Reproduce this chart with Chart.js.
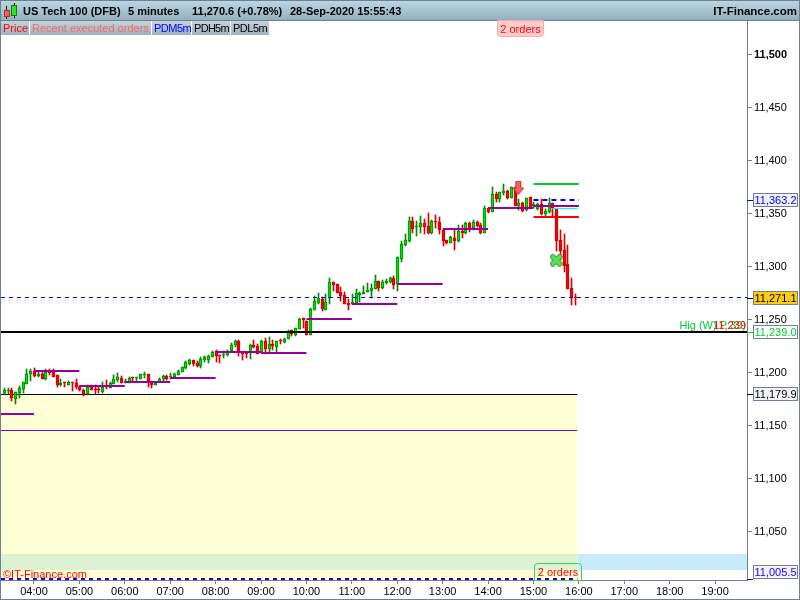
<!DOCTYPE html>
<html><head><meta charset="utf-8">
<style>html,body{margin:0;padding:0;background:#fff}canvas{display:block}</style>
<script src="https://cdn.jsdelivr.net/npm/chart.js@4/dist/chart.umd.js"></script>
</head><body>
<canvas id="c" width="800" height="600"></canvas>
<script>
// Candle times: minutes after midnight, first bar 03:20, one bar each 5 minutes (152 bars up to 15:55)
const barTimes = [200,205,210,215,220,225,230,235,240,245,250,255,260,265,270,275,280,285,290,295,300,305,310,315,320,325,330,335,340,345,350,355,360,365,370,375,380,385,390,395,400,405,410,415,420,425,430,435,440,445,450,455,460,465,470,475,480,485,490,495,500,505,510,515,520,525,530,535,540,545,550,555,560,565,570,575,580,585,590,595,600,605,610,615,620,625,630,635,640,645,650,655,660,665,670,675,680,685,690,695,700,705,710,715,720,725,730,735,740,745,750,755,760,765,770,775,780,785,790,795,800,805,810,815,820,825,830,835,840,845,850,855,860,865,870,875,880,885,890,895,900,905,910,915,920,925,930,935,940,945,950,955];
const opens = [11181.4,11182.7,11183.9,11175.8,11181.1,11184.9,11189.9,11199.3,11201.5,11197.5,11199,11194.6,11201.2,11200.9,11197.8,11189,11190.8,11189,11191.5,11190.5,11187.1,11183.6,11179.8,11187.1,11184.9,11184.9,11181.7,11187.4,11186.1,11189.9,11193,11195.3,11190.5,11191.8,11196.2,11194.9,11194.6,11197.8,11198.7,11191.5,11188.6,11191.8,11194,11197.5,11195.9,11195.9,11198.4,11201.2,11205,11208.5,11211.9,11209.7,11206.3,11212.2,11212.2,11215.4,11220.7,11216.9,11216.6,11216.6,11220.4,11226.4,11230.2,11218.5,11218.5,11218.5,11226.7,11225.5,11220.1,11230.2,11222.6,11227.4,11224.5,11230.5,11229.2,11232.1,11240.2,11235.8,11241.5,11251.6,11248.7,11236.2,11259.4,11266,11269.8,11259.4,11270.4,11285.5,11284,11276.4,11273.6,11266,11265.4,11266,11273.9,11274.5,11276.4,11277.7,11279.2,11286.8,11280.2,11285.2,11285.8,11289.6,11284,11307.5,11320.7,11324.8,11343.4,11337.4,11337.7,11341.2,11338.7,11332.1,11343.4,11342.4,11334.9,11325.5,11322.6,11327.3,11324.5,11334,11332.1,11341.2,11336.5,11342.4,11339.6,11332.1,11355.7,11351.9,11368.9,11363.8,11369.8,11371.7,11365.1,11375.5,11357.5,11360.4,11353.8,11366,11357.5,11355,11359.4,11350,11351.9,11360.4,11354.7,11325.5,11316,11302.8,11280.2,11271.7];
const highs = [11185.5,11185.5,11185.5,11182.4,11187.7,11191.2,11203.7,11203.4,11204.4,11201.2,11201.2,11203.4,11203.7,11203.4,11197.8,11194,11191.8,11192.4,11191.5,11194,11188,11184.6,11188.6,11188.6,11188.3,11188,11191.2,11193.4,11191.2,11198.1,11200,11197.1,11194,11195.9,11196.2,11196.5,11199,11200.9,11199,11192.7,11191.8,11195.6,11198.1,11198.1,11199.7,11200,11202.8,11205.9,11211.6,11212.9,11212.2,11211.6,11215.1,11216,11217.3,11220.7,11221.7,11216.9,11220.4,11221.7,11228,11231.1,11231.1,11220.1,11219.5,11227.3,11231.1,11227.4,11231,11232.7,11233.6,11231.1,11230.2,11232.1,11233,11240.2,11240.2,11242.1,11251.6,11251.6,11248.7,11261,11272.6,11275.5,11271.7,11274.5,11289.6,11285.5,11284,11281.1,11276.1,11269.5,11274.5,11279.2,11276.4,11282.1,11284.9,11284,11292.4,11286.8,11287.7,11288.7,11290.9,11291.5,11309.1,11324.5,11331.1,11347.5,11347.5,11343.4,11348.1,11345,11350.9,11344.3,11349,11346.8,11334.9,11325.5,11329.2,11334.9,11339.6,11339.6,11342.4,11342.8,11344.3,11343.4,11341.2,11357.5,11355.7,11375.5,11370.7,11370.4,11378.3,11372.6,11375.5,11375.5,11364.1,11361.3,11365.1,11366,11361.3,11360.4,11364.1,11354.7,11365.1,11360.4,11354.7,11334.9,11331.1,11320.7,11289.6,11274.5];
const lows = [11180.5,11180.5,11173.9,11171,11176.7,11181.4,11189.3,11192.7,11196.5,11196.5,11194.3,11193.7,11198.1,11195.9,11187.1,11187.7,11186.8,11188.6,11183.3,11185.2,11183,11178.6,11179.8,11183.9,11180.2,11181.1,11181.1,11184.6,11186.1,11189.9,11191.8,11190.5,11190.5,11190.5,11192.7,11192.7,11194.6,11195.6,11187.1,11186.1,11188.3,11191.8,11191.8,11193.4,11194.3,11194.9,11197.8,11201.2,11204.1,11207.8,11206.6,11205.3,11205,11210,11209.7,11214.7,11210.3,11209.7,11213.8,11216,11219.8,11224.2,11216.3,11212.2,11213.8,11213.2,11223.2,11217.9,11220,11217.9,11219.2,11221.7,11219.5,11227.7,11228.6,11231.8,11234.9,11234.9,11241.2,11242.4,11236.2,11236.2,11259.1,11265.1,11258.5,11259.4,11265.1,11277.7,11275.8,11268.2,11265.1,11259.4,11265.1,11266,11267,11274.5,11276.1,11270.8,11279.2,11277.4,11279.2,11284,11284.9,11279.2,11277.7,11305,11319.8,11323.6,11332.4,11329.5,11332.4,11331.1,11331.1,11331.1,11336.5,11331.1,11319.8,11321.7,11322.6,11316,11323.6,11327,11331.1,11333.3,11334.9,11337.4,11331.1,11331.8,11351.2,11351.9,11361.3,11361.3,11367.9,11364.1,11364.8,11357.5,11353.8,11351.9,11352.8,11354.7,11355.7,11353.8,11349,11348.1,11351,11348.1,11315.1,11306.6,11295.3,11279.2,11264.1,11264.1];
const closes = [11183.9,11183.3,11176.7,11181.7,11185.5,11191.2,11199,11201.9,11197.5,11199.3,11194.6,11200.9,11200,11196.5,11188.6,11190.5,11190.2,11191.5,11190.2,11186.8,11183.9,11179.8,11186.8,11183.9,11184.2,11183.6,11186.4,11186.8,11190.2,11194.3,11196.2,11190.5,11192.7,11195.3,11194.9,11195.6,11198.7,11199,11191.2,11189,11190.5,11194.3,11197.1,11194.6,11197.1,11199,11201.9,11205.3,11210.3,11212.2,11208.5,11206.6,11213.2,11214.7,11216,11219.8,11216,11216,11217.6,11219.8,11226.7,11229.8,11218.5,11217.9,11217.9,11226.4,11224.8,11217.9,11230.2,11222.3,11227.7,11225.5,11230.2,11229.9,11232.1,11238.4,11236.8,11242.1,11250.9,11250.3,11236.2,11260.1,11267.6,11270.4,11260.1,11266.7,11285.5,11283.3,11275.8,11273,11265.1,11264.5,11267,11275.5,11275.5,11276.4,11278.3,11280.2,11286.8,11280.2,11285.8,11286.8,11289.6,11283,11309.1,11321.7,11325.5,11343.4,11335.8,11338.7,11341.2,11337.7,11332.1,11343.4,11342.1,11334.9,11324.8,11322.6,11328.3,11324.5,11334,11332.4,11341.5,11336.5,11342.4,11338.7,11332.1,11355.7,11351.9,11368.9,11364.1,11370.4,11371.7,11365.1,11375.5,11357.5,11360.4,11352.8,11365.1,11355.7,11359.4,11359.4,11350,11352.8,11360.4,11355.7,11324.5,11315.1,11300.9,11279.2,11270.7,11270.6];
const priceTicks = [11050,11100,11150,11200,11250,11300,11350,11400,11450,11500];
const hourTicks = [240,300,360,420,480,540,600,660,720,780,840,900,960,1020,1080,1140];
const hourLabels = ['04:00','05:00','06:00','07:00','08:00','09:00','10:00','11:00','12:00','13:00','14:00','15:00','16:00','17:00','18:00','19:00'];
// Hourly purple levels
const levelStarts = [196.4,240,300,360,420,480,540,600,660,720,780,840,900];
const levelEnds = [240,300,360,420,480,540,600,660,720,780,840,900,960];
const levelValues = [11161.3,11202,11187.7,11191.5,11195.3,11219.8,11218.9,11250.9,11265.4,11284,11336.2,11355.7,11357.5];
const axisMinX = 196.4, axisMaxX = 1182.2, axisMinY = 11004.7, axisMaxY = 11533;
const endOfSession = 958, sessionStart = 900;
const lastPrice = 11271.1, blackLevel = 11239, boxTop = 11179.9, blueBottom = 11005.5, blueUpper = 11363.2;
const purpleThin = 11145.7, greenLevel = 11378.3, redLevel = 11347.2, cyanLevel = 11355.4;
const bandHigh = 11029.2, bandLow = 11014.2;
const arrowTime = 880, arrowPrice = 11374.5, crossTime = 930, crossPrice = 11306.3;

const GREEN_F='#00e000', GREEN_E='#008a00', RED_F='#ff0000', RED_E='#cc0000';
const isUp = i => closes[i] >= opens[i];

function hline(x0,x1,y,color,width,dash,order,extra){
  return Object.assign({type:'line',data:[{x:x0,y:y},{x:x1,y:y}],borderColor:color,borderWidth:width,
    borderDash:dash||[],pointRadius:0,fill:false,tension:0,order:order},extra||{});
}
function arrowImage(){
  const c=document.createElement('canvas');c.width=12;c.height=15;const g=c.getContext('2d');
  g.beginPath();g.moveTo(3.5,.5);g.lineTo(8.5,.5);g.lineTo(8.5,7.5);g.lineTo(11.5,7.5);g.lineTo(6,14);g.lineTo(.5,7.5);g.lineTo(3.5,7.5);g.closePath();
  g.fillStyle='#f86060';g.fill();g.strokeStyle='#c83232';g.lineWidth=1;g.stroke();return c;
}
function crossImage(){
  const c=document.createElement('canvas');c.width=13;c.height=13;const g=c.getContext('2d');
  g.lineCap='round';
  const x=()=>{g.beginPath();g.moveTo(3,3);g.lineTo(10,10);g.moveTo(10,3);g.lineTo(3,10);g.stroke();};
  g.strokeStyle='#2f9e2f';g.lineWidth=5.5;x();g.strokeStyle='#5fe05f';g.lineWidth=3.6;x();return c;
}
const datasets = [
  {type:'scatter',data:[{x:arrowTime,y:arrowPrice}],pointStyle:arrowImage(),pointRadius:7,order:1},
  {type:'scatter',data:[{x:crossTime,y:crossPrice}],pointStyle:crossImage(),pointRadius:7,order:1},
  hline(axisMinX,axisMaxX,blackLevel,'#000000',2,null,2),
  hline(axisMinX,axisMaxX,lastPrice,'#0000ff',1,[4,4],3),
  hline(sessionStart,960,greenLevel,'#00cc33',2,null,3),
  hline(sessionStart,960,redLevel,'#ff0000',2,null,3),
  hline(sessionStart,960,blueUpper,'#0000ff',2,[5,4],3),
  hline(925,958,cyanLevel,'#00ffff',1,null,4),
  ...levelValues.map((v,i)=>hline(levelStarts[i],levelEnds[i],v,'#990099',2,null,5)),
  {type:'bar',data:barTimes.map((t,i)=>({x:t,y:[opens[i],closes[i]]})),barThickness:3,grouped:false,
    backgroundColor:c=>isUp(c.dataIndex)?GREEN_F:RED_F,borderColor:c=>isUp(c.dataIndex)?GREEN_E:RED_E,borderWidth:1,borderSkipped:false,order:6},
  {type:'bar',data:barTimes.map((t,i)=>({x:t,y:[lows[i],highs[i]]})),barThickness:1,grouped:false,
    backgroundColor:c=>isUp(c.dataIndex)?GREEN_E:'#dd0000',borderWidth:0,order:7},
  hline(axisMinX,endOfSession,blueBottom,'#2200ee',2,[4,4],8),
  hline(axisMinX,endOfSession,boxTop,'#000000',1,null,9),
  hline(axisMinX,endOfSession,purpleThin,'#990099',1,null,9),
  hline(axisMinX,endOfSession,bandHigh,'rgba(0,0,0,0)',0,null,10,{fill:{value:bandLow},backgroundColor:'#dcf2d3'}),
  hline(endOfSession,axisMaxX,bandHigh,'rgba(0,0,0,0)',0,null,10,{fill:{value:bandLow},backgroundColor:'#c8ebfb'}),
  hline(axisMinX,endOfSession,boxTop,'rgba(0,0,0,0)',0,null,11,{fill:{value:axisMinY},backgroundColor:'#ffffd6'})
];

const pixelSnap = {
  id:'pixelSnap',
  afterDatasetsUpdate(chart){
    chart.getSortedVisibleDatasetMetas().forEach(m=>{
      const ds=chart.data.datasets[m.index];
      if(m.type==='bar'){
        m.data.forEach(el=>{el.x=Math.round(el.x)+0.5;el.y=Math.round(el.y);el.base=Math.round(el.base);
          if(el.y===el.base){el.y-=1;}});
      } else if(m.type==='line'){
        const odd=(ds.borderWidth%2)===1;
        m.data.forEach(el=>{el.y=Math.round(el.y-(odd?.5:0))+(odd?.5:0);});
      }
    });
  }
};
const AXIS='#708090';
const F11='11px "Liberation Sans"';
function roundRectPath(g,x,y,w,h,r){g.beginPath();g.roundRect(x,y,w,h,r);}
function tab(g,x0,x1,label,color,spacing){
  const gr=g.createLinearGradient(0,21,0,35);gr.addColorStop(0,'#c4d3da');gr.addColorStop(1,'#9bb2bd');
  g.fillStyle=gr;g.fillRect(x0,21,x1-x0-1,14);
  g.fillStyle=color;g.font=F11;g.textAlign='left';g.textBaseline='alphabetic';
  g.letterSpacing=spacing||'0px';
  g.fillText(label,x0+2,32);
  g.letterSpacing='0px';
}
function priceBox(g,y,label,fill,color,edge,boxY){
  const cy=boxY===undefined?y:boxY;
  g.fillStyle=color;g.fillRect(747,Math.round(y),6,1);
  g.fillStyle=fill;g.fillRect(753,Math.round(cy)-7,45,14);
  g.strokeStyle=edge;g.lineWidth=1;g.strokeRect(753.5,Math.round(cy)-6.5,44,13);
  g.fillStyle=color;g.font=F11;g.textAlign='left';g.textBaseline='middle';
  g.fillText(label,754.5,Math.round(cy)+1);
}
const chrome = {
  id:'chrome',
  beforeDraw(chart){
    const g=chart.ctx;g.save();g.fillStyle='#ffffff';g.fillRect(0,0,800,600);g.restore();
  },
  afterDraw(chart){
    const g=chart.ctx,yS=chart.scales.y;g.save();
    // header bar
    const gr=g.createLinearGradient(0,0,0,20);gr.addColorStop(0,'#bcd8e4');gr.addColorStop(1,'#94b0bc');
    g.fillStyle=gr;g.fillRect(0,0,800,20);
    g.fillStyle=AXIS;g.fillRect(0,0,800,1);g.fillRect(0,20,800,1);
    // header icon
    g.fillStyle='#000';g.fillRect(6,6,1,13);g.fillRect(14,3,1,15);
    g.fillStyle='#f06060';g.fillRect(4,10,6,7);g.strokeStyle='#b03030';g.strokeRect(4.5,10.5,5,6);
    g.fillStyle='#30e030';g.fillRect(11,5,6,11);g.strokeStyle='#108010';g.strokeRect(11.5,5.5,5,10);
    // header text
    g.fillStyle='#000';g.font='bold 11px "Liberation Sans"';g.textAlign='left';g.textBaseline='alphabetic';
    g.fillText('US Tech 100 (DFB)',23,15);
    g.fillText('5 minutes',128,15);
    g.fillText('11,270.6 (+0.78%)',192,15);
    g.fillText('28-Sep-2020 15:55:43',290,15);
    g.font='bold 11.5px "Liberation Sans"';
    g.textAlign='right';g.fillText('IT-Finance.com',797,15);
    // tabs
    tab(g,1,30,'Price','#ff0000');
    tab(g,30,152,'Recent executed orders','#ff6666');
    tab(g,152,192,'PDM5m','#0000ff','-0.5px');
    tab(g,192,231,'PDH5m','#000000','-0.7px');
    tab(g,231,270,'PDL5m','#000000','-0.5px');
    // order tags
    roundRectPath(g,497.5,20.5,46,16,[0,0,3,3]);g.fillStyle='#ffcccc';g.fill();g.strokeStyle='#ffaaaa';g.stroke();
    g.fillStyle='#ff0000';g.font=F11;g.textAlign='center';g.textBaseline='middle';
    g.fillText('2 orders',520.5,29.5);
    roundRectPath(g,534.5,563.5,47,17,[3,3,0,0]);g.strokeStyle='#44cc55';g.stroke();
    g.fillStyle='#ff0000';g.fillText('2 orders',558,572.5);
    // level captions
    g.font=F11;g.textAlign='right';g.textBaseline='alphabetic';
    g.fillStyle='#00cc33';g.fillText('Hig (W) P:39)',746,329);
    g.fillStyle='#ff0000';g.fillText('11,239',746,329);
    g.textAlign='left';g.fillStyle='#ff0000';g.fillText('\u00A9IT-Finance.com',3,578);
    // price boxes
    priceBox(g,yS.getPixelForValue(blueUpper),'11,363.2','#f2f2f6','#0000ff',AXIS);
    priceBox(g,yS.getPixelForValue(lastPrice),'11,271.1','#ffcc11','#000000',AXIS);
    priceBox(g,yS.getPixelForValue(blackLevel),'11,239.0','#ffffff','#00cc33',AXIS);
    priceBox(g,yS.getPixelForValue(boxTop),'11,179.9','#f2f2f6','#000000',AXIS);
    priceBox(g,yS.getPixelForValue(blueBottom),'11,005.5','#f2f2f6','#2200ee',AXIS,572);
    // frame
    g.fillStyle=AXIS;g.fillRect(0,0,1,600);g.fillRect(0,599,800,1);g.fillRect(799,0,1,600);
    g.restore();
  }
};
Chart.defaults.font.family='"Liberation Sans"';
new Chart(document.getElementById('c'),{
  type:'line',
  data:{datasets},
  plugins:[pixelSnap,chrome],
  options:{
    responsive:false,animation:false,devicePixelRatio:1,events:[],
    layout:{autoPadding:false,padding:{top:20,left:1,right:0,bottom:0}},
    plugins:{legend:{display:false},title:{display:false},tooltip:{enabled:false}},
    scales:{
      x:{type:'linear',position:'bottom',min:axisMinX,max:axisMaxX,offset:false,
        afterBuildTicks:a=>{a.ticks=hourTicks.map(v=>({value:v}));},
        afterFit:a=>{a.height=20;a.paddingLeft=0;a.paddingRight=0;},
        grid:{drawOnChartArea:false,drawTicks:true,tickLength:4,tickColor:AXIS,offset:false},
        border:{display:true,color:AXIS},
        ticks:{autoSkip:false,maxRotation:0,padding:1,color:'#000',font:{size:11,family:'"Liberation Sans"'},
          callback:v=>hourLabels[hourTicks.indexOf(v)]}},
      y:{type:'linear',position:'right',min:axisMinY,max:axisMaxY,beginAtZero:false,
        afterBuildTicks:a=>{a.ticks=priceTicks.map(v=>({value:v}));},
        afterFit:a=>{a.width=53;a.paddingTop=0;a.paddingBottom=0;},
        grid:{drawOnChartArea:false,drawTicks:true,tickLength:5,tickColor:AXIS},
        border:{display:true,color:AXIS},
        ticks:{padding:2,color:'#000',
          font:c=>({size:11,family:'"Liberation Sans"',weight:(c.tick&&c.tick.value===11500)?'bold':'normal'}),
          callback:v=>v.toLocaleString('en-US')}}
    }
  }
});
</script>
</body></html>
